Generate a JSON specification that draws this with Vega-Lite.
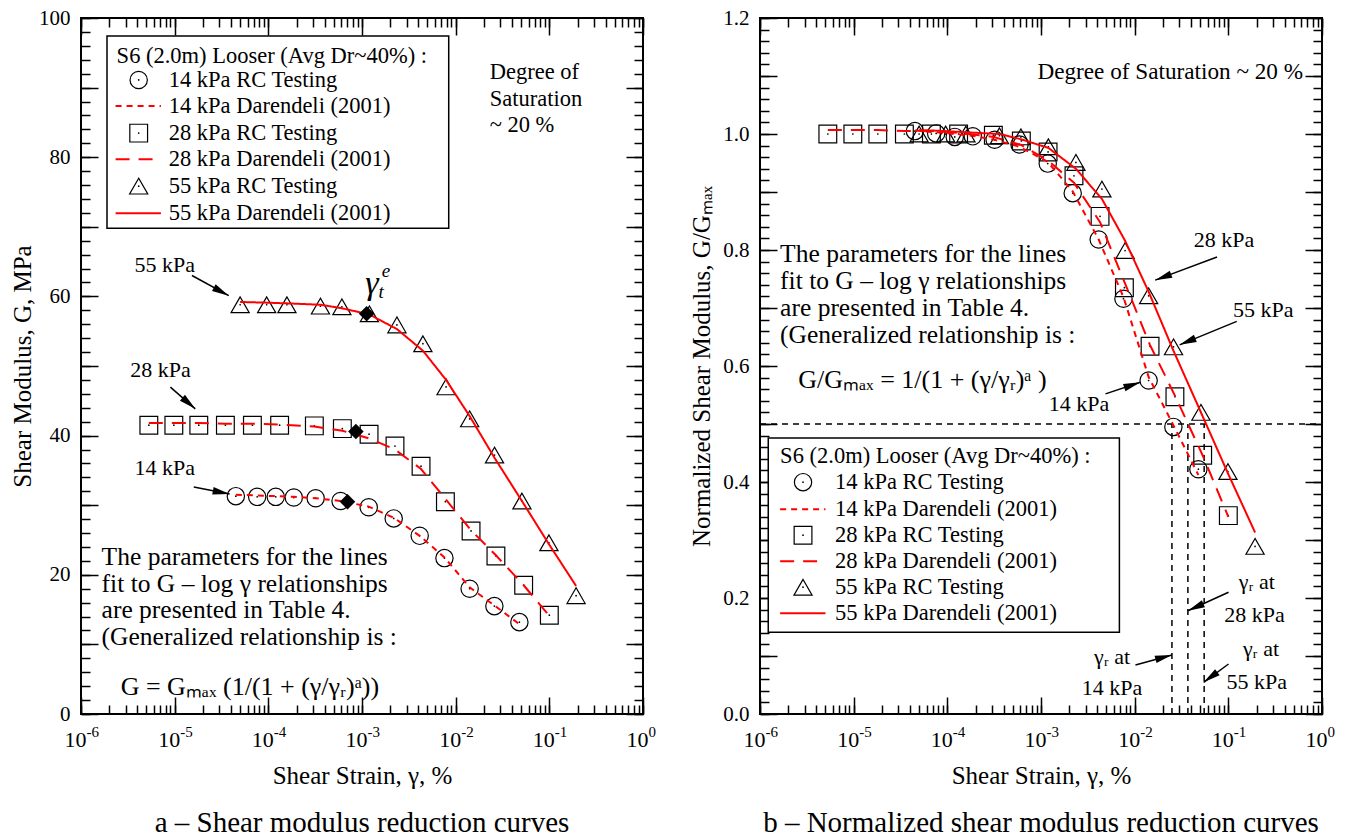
{
"$schema": "https://vega.github.io/schema/vega-lite/v6.json",
"background": "white",
"padding": {"left": 9, "top": 6, "right": 5, "bottom": 0},
"spacing": 117,
"bounds": "flush",
"datasets": {
"lp": [
{"p":"14","x":4.5e-5,"y":31.3},{"p":"14","x":7.6e-5,"y":31.2},{"p":"14","x":1.2e-4,"y":31.2},{"p":"14","x":1.87e-4,"y":31.1},{"p":"14","x":3.2e-4,"y":31.0},{"p":"14","x":5.9e-4,"y":30.6},{"p":"14","x":1.18e-3,"y":29.7},{"p":"14","x":2.18e-3,"y":28.1},{"p":"14","x":4.13e-3,"y":25.6},{"p":"14","x":7.59e-3,"y":22.4},{"p":"14","x":1.41e-2,"y":18.0},{"p":"14","x":2.59e-2,"y":15.5},{"p":"14","x":4.79e-2,"y":13.2},
{"p":"28","x":5.3e-6,"y":41.5},{"p":"28","x":9.8e-6,"y":41.5},{"p":"28","x":1.81e-5,"y":41.5},{"p":"28","x":3.48e-5,"y":41.5},{"p":"28","x":6.76e-5,"y":41.5},{"p":"28","x":1.32e-4,"y":41.5},{"p":"28","x":3.1e-4,"y":41.4},{"p":"28","x":6.17e-4,"y":41.0},{"p":"28","x":1.19e-3,"y":40.2},{"p":"28","x":2.25e-3,"y":38.5},{"p":"28","x":4.27e-3,"y":35.6},{"p":"28","x":7.77e-3,"y":30.5},{"p":"28","x":1.46e-2,"y":26.3},{"p":"28","x":2.69e-2,"y":22.7},{"p":"28","x":5.32e-2,"y":18.5},{"p":"28","x":0.1,"y":14.2},
{"p":"55","x":5.0e-5,"y":58.8},{"p":"55","x":9.6e-5,"y":58.8},{"p":"55","x":1.58e-4,"y":58.8},{"p":"55","x":3.6e-4,"y":58.6},{"p":"55","x":6.1e-4,"y":58.5},{"p":"55","x":1.2e-3,"y":57.5},{"p":"55","x":2.36e-3,"y":55.9},{"p":"55","x":4.47e-3,"y":53.2},{"p":"55","x":7.9e-3,"y":47.0},{"p":"55","x":1.41e-2,"y":42.4},{"p":"55","x":2.6e-2,"y":37.2},{"p":"55","x":5.1e-2,"y":30.6},{"p":"55","x":9.9e-2,"y":24.6},{"p":"55","x":0.193,"y":17.0}
],
"ll": [
{"p":"14","x":4.5e-5,"y":31.5},{"p":"14","x":7.6e-5,"y":31.4},{"p":"14","x":1.2e-4,"y":31.3},{"p":"14","x":1.87e-4,"y":31.2},{"p":"14","x":3.2e-4,"y":31.0},{"p":"14","x":5.9e-4,"y":30.6},{"p":"14","x":1.18e-3,"y":29.8},{"p":"14","x":2.18e-3,"y":28.2},{"p":"14","x":4.13e-3,"y":25.6},{"p":"14","x":7.59e-3,"y":22.5},{"p":"14","x":1.41e-2,"y":18.2},{"p":"14","x":2.59e-2,"y":15.6},{"p":"14","x":4.79e-2,"y":12.9},
{"p":"28","x":5.3e-6,"y":41.8},{"p":"28","x":9.8e-6,"y":41.8},{"p":"28","x":1.81e-5,"y":41.8},{"p":"28","x":3.48e-5,"y":41.7},{"p":"28","x":6.76e-5,"y":41.7},{"p":"28","x":1.32e-4,"y":41.6},{"p":"28","x":3.1e-4,"y":41.3},{"p":"28","x":6.17e-4,"y":40.7},{"p":"28","x":1.19e-3,"y":39.6},{"p":"28","x":2.25e-3,"y":38.0},{"p":"28","x":4.27e-3,"y":35.2},{"p":"28","x":7.77e-3,"y":30.9},{"p":"28","x":1.46e-2,"y":26.4},{"p":"28","x":2.69e-2,"y":22.8},{"p":"28","x":5.32e-2,"y":18.5},{"p":"28","x":0.1,"y":14.1},
{"p":"55","x":5.0e-5,"y":59.2},{"p":"55","x":9.6e-5,"y":59.1},{"p":"55","x":1.58e-4,"y":59.0},{"p":"55","x":3.6e-4,"y":58.8},{"p":"55","x":6.1e-4,"y":58.3},{"p":"55","x":1.2e-3,"y":57.4},{"p":"55","x":2.36e-3,"y":55.3},{"p":"55","x":4.47e-3,"y":52.2},{"p":"55","x":7.9e-3,"y":48.0},{"p":"55","x":1.41e-2,"y":42.8},{"p":"55","x":2.6e-2,"y":36.8},{"p":"55","x":5.1e-2,"y":30.6},{"p":"55","x":9.9e-2,"y":24.4},{"p":"55","x":0.193,"y":18.4}
],
"ld": [{"p":"55","x":1.12e-3,"y":57.5},{"p":"28","x":8.6e-4,"y":40.6},{"p":"14","x":7.0e-4,"y":30.5}],
"lsym": [{"p":"14","x":4.13e-6,"y":91.1},{"p":"28","x":4.13e-6,"y":83.46},{"p":"55","x":4.13e-6,"y":75.84}],
"lleg": [{"p":"14","x1":2.34e-6,"x2":7.13e-6,"y":87.35},{"p":"28","x1":2.34e-6,"x2":7.13e-6,"y":79.72},{"p":"55","x1":2.34e-6,"x2":7.13e-6,"y":71.95}],
"lbox": [{"x1":1.895e-6,"x2":8.43e-3,"y1":69.8,"y2":97.4}],
"lt": [
{"g":"legt","x":2.4e-6,"y":94.6,"t":"S6 (2.0m) Looser (Avg Dr~40%) :"},
{"g":"leg","x":8.63e-6,"y":91.1,"t":"14 kPa RC Testing"},
{"g":"leg","x":8.63e-6,"y":87.35,"t":"14 kPa Darendeli (2001)"},
{"g":"leg","x":8.63e-6,"y":83.46,"t":"28 kPa RC Testing"},
{"g":"leg","x":8.63e-6,"y":79.72,"t":"28 kPa Darendeli (2001)"},
{"g":"leg","x":8.63e-6,"y":75.84,"t":"55 kPa RC Testing"},
{"g":"leg","x":8.63e-6,"y":71.95,"t":"55 kPa Darendeli (2001)"},
{"g":"sat","x":0.02307,"y":92.2,"t":"Degree of"},
{"g":"sat","x":0.02307,"y":88.3,"t":"Saturation"},
{"g":"sat","x":0.02307,"y":84.6,"t":"~ 20 %"},
{"g":"lab","x":7.84e-6,"y":64.5,"t":"55 kPa"},
{"g":"lab","x":7.05e-6,"y":49.4,"t":"28 kPa"},
{"g":"lab","x":7.85e-6,"y":35.3,"t":"14 kPa"},
{"g":"para","x":1.66e-6,"y":22.6,"t":"The parameters for the lines"},
{"g":"para","x":1.66e-6,"y":18.7,"t":"fit to G – log γ relationships"},
{"g":"para","x":1.66e-6,"y":14.9,"t":"are presented in Table 4."},
{"g":"para","x":1.66e-6,"y":11.1,"t":"(Generalized relationship is :"},
{"g":"form","x":2.65e-6,"y":3.84,"t":"G = Gₘₐₓ (1/(1 + (γ/γᵣ)ᵃ))"},
{"g":"gam","x":1.28e-3,"y":61.8,"t":"γ"}
],
"la": [
{"x1":1.53e-5,"y1":63.0,"x2":3.78e-5,"y2":60.1,"angle":118.6},
{"x1":9.0e-6,"y1":46.96,"x2":1.66e-5,"y2":43.84,"angle":130.9},
{"x1":1.6e-5,"y1":32.6,"x2":3.86e-5,"y2":31.6,"angle":101}
],
"rp": [
{"p":"14","x":4.5e-5,"y":1.005},{"p":"14","x":7.6e-5,"y":1.001},{"p":"14","x":1.2e-4,"y":0.995},{"p":"14","x":1.87e-4,"y":0.996},{"p":"14","x":3.2e-4,"y":0.99},{"p":"14","x":5.9e-4,"y":0.982},{"p":"14","x":1.18e-3,"y":0.949},{"p":"14","x":2.18e-3,"y":0.898},{"p":"14","x":4.13e-3,"y":0.818},{"p":"14","x":7.59e-3,"y":0.716},{"p":"14","x":1.41e-2,"y":0.575},{"p":"14","x":2.59e-2,"y":0.495},{"p":"14","x":4.79e-2,"y":0.422},
{"p":"28","x":5.3e-6,"y":1.0},{"p":"28","x":9.8e-6,"y":1.0},{"p":"28","x":1.81e-5,"y":1.0},{"p":"28","x":3.48e-5,"y":1.0},{"p":"28","x":6.76e-5,"y":1.0},{"p":"28","x":1.32e-4,"y":1.0},{"p":"28","x":3.1e-4,"y":0.998},{"p":"28","x":6.17e-4,"y":0.988},{"p":"28","x":1.19e-3,"y":0.969},{"p":"28","x":2.25e-3,"y":0.928},{"p":"28","x":4.27e-3,"y":0.858},{"p":"28","x":7.77e-3,"y":0.735},{"p":"28","x":1.46e-2,"y":0.634},{"p":"28","x":2.69e-2,"y":0.547},{"p":"28","x":5.32e-2,"y":0.446},{"p":"28","x":0.1,"y":0.342},
{"p":"55","x":5.0e-5,"y":1.0},{"p":"55","x":9.6e-5,"y":1.0},{"p":"55","x":1.58e-4,"y":1.0},{"p":"55","x":3.6e-4,"y":0.997},{"p":"55","x":6.1e-4,"y":0.995},{"p":"55","x":1.2e-3,"y":0.978},{"p":"55","x":2.36e-3,"y":0.951},{"p":"55","x":4.47e-3,"y":0.905},{"p":"55","x":7.9e-3,"y":0.799},{"p":"55","x":1.41e-2,"y":0.721},{"p":"55","x":2.6e-2,"y":0.633},{"p":"55","x":5.1e-2,"y":0.52},{"p":"55","x":9.9e-2,"y":0.418},{"p":"55","x":0.193,"y":0.289}
],
"rl": [
{"p":"14","x":4.5e-5,"y":1.006},{"p":"14","x":7.6e-5,"y":1.003},{"p":"14","x":1.2e-4,"y":1.0},{"p":"14","x":1.87e-4,"y":0.997},{"p":"14","x":3.2e-4,"y":0.99},{"p":"14","x":5.9e-4,"y":0.978},{"p":"14","x":1.18e-3,"y":0.952},{"p":"14","x":2.18e-3,"y":0.901},{"p":"14","x":4.13e-3,"y":0.818},{"p":"14","x":7.59e-3,"y":0.719},{"p":"14","x":1.41e-2,"y":0.581},{"p":"14","x":2.59e-2,"y":0.498},{"p":"14","x":4.79e-2,"y":0.412},
{"p":"28","x":5.3e-6,"y":1.007},{"p":"28","x":9.8e-6,"y":1.007},{"p":"28","x":1.81e-5,"y":1.007},{"p":"28","x":3.48e-5,"y":1.005},{"p":"28","x":6.76e-5,"y":1.005},{"p":"28","x":1.32e-4,"y":1.002},{"p":"28","x":3.1e-4,"y":0.995},{"p":"28","x":6.17e-4,"y":0.981},{"p":"28","x":1.19e-3,"y":0.954},{"p":"28","x":2.25e-3,"y":0.916},{"p":"28","x":4.27e-3,"y":0.848},{"p":"28","x":7.77e-3,"y":0.745},{"p":"28","x":1.46e-2,"y":0.636},{"p":"28","x":2.69e-2,"y":0.549},{"p":"28","x":5.32e-2,"y":0.446},{"p":"28","x":0.1,"y":0.34},
{"p":"55","x":5.0e-5,"y":1.007},{"p":"55","x":9.6e-5,"y":1.005},{"p":"55","x":1.58e-4,"y":1.003},{"p":"55","x":3.6e-4,"y":1.0},{"p":"55","x":6.1e-4,"y":0.991},{"p":"55","x":1.2e-3,"y":0.976},{"p":"55","x":2.36e-3,"y":0.94},{"p":"55","x":4.47e-3,"y":0.888},{"p":"55","x":7.9e-3,"y":0.816},{"p":"55","x":1.41e-2,"y":0.728},{"p":"55","x":2.6e-2,"y":0.626},{"p":"55","x":5.1e-2,"y":0.52},{"p":"55","x":9.9e-2,"y":0.415},{"p":"55","x":0.193,"y":0.313}
],
"rsym": [{"p":"14","x":2.88e-6,"y":0.3997},{"p":"28","x":2.88e-6,"y":0.3083},{"p":"55","x":2.88e-6,"y":0.2186}],
"rleg": [{"p":"14","x1":1.64e-6,"x2":5.0e-6,"y":0.3531},{"p":"28","x1":1.64e-6,"x2":5.0e-6,"y":0.2634},{"p":"55","x1":1.64e-6,"x2":5.0e-6,"y":0.1737}],
"rbox": [{"x1":1.225e-6,"x2":6.87e-3,"y1":0.141,"y2":0.476}],
"rref": [{"x1":1e-6,"x2":1,"y1":0.5,"y2":0.5},{"x1":0.025,"x2":0.025,"y1":0,"y2":0.5},{"x1":0.037,"x2":0.037,"y1":0,"y2":0.5},{"x1":0.0552,"x2":0.0552,"y1":0,"y2":0.5}],
"rt": [
{"g":"legt","x":1.64e-6,"y":0.4455,"t":"S6 (2.0m) Looser (Avg Dr~40%) :"},
{"g":"leg","x":6.33e-6,"y":0.3997,"t":"14 kPa RC Testing"},
{"g":"leg","x":6.33e-6,"y":0.3531,"t":"14 kPa Darendeli (2001)"},
{"g":"leg","x":6.33e-6,"y":0.3083,"t":"28 kPa RC Testing"},
{"g":"leg","x":6.33e-6,"y":0.2634,"t":"28 kPa Darendeli (2001)"},
{"g":"leg","x":6.33e-6,"y":0.2186,"t":"55 kPa RC Testing"},
{"g":"leg","x":6.33e-6,"y":0.1737,"t":"55 kPa Darendeli (2001)"},
{"g":"sat","x":9.16e-4,"y":1.107,"t":"Degree of Saturation ~ 20 %"},
{"g":"para","x":1.64e-6,"y":0.793,"t":"The parameters for the lines"},
{"g":"para","x":1.64e-6,"y":0.746,"t":"fit to G – log γ relationships"},
{"g":"para","x":1.64e-6,"y":0.7,"t":"are presented in Table 4."},
{"g":"para","x":1.64e-6,"y":0.653,"t":"(Generalized relationship is :"},
{"g":"form","x":2.56e-6,"y":0.576,"t":"G/Gₘₐₓ = 1/(1 + (γ/γᵣ)ᵃ )"},
{"g":"lab","x":0.0897,"y":0.817,"t":"28 kPa"},
{"g":"lab","x":0.2366,"y":0.696,"t":"55 kPa"},
{"g":"lab","x":2.54e-3,"y":0.535,"t":"14 kPa"},
{"g":"lab","x":0.201,"y":0.227,"t":"γᵣ at"},
{"g":"lab","x":0.19,"y":0.171,"t":"28 kPa"},
{"g":"lab","x":0.223,"y":0.112,"t":"γᵣ at"},
{"g":"lab","x":0.201,"y":0.056,"t":"55 kPa"},
{"g":"lab","x":5.74e-3,"y":0.0978,"t":"γᵣ at"},
{"g":"lab","x":5.74e-3,"y":0.0443,"t":"14 kPa"}
],
"ra": [
{"x1":0.0757,"y1":0.788,"x2":0.01656,"y2":0.748,"angle":-110.3},
{"x1":0.123,"y1":0.677,"x2":0.0302,"y2":0.6365,"angle":-112.2},
{"x1":4.88e-3,"y1":0.552,"x2":0.0115,"y2":0.572,"angle":71.5},
{"x1":0.1005,"y1":0.21,"x2":0.037,"y2":0.178,"angle":-114.2},
{"x1":0.1005,"y1":0.0862,"x2":0.0545,"y2":0.0547,"angle":-126.2},
{"x1":0.0102,"y1":0.0845,"x2":0.025,"y2":0.1018,"angle":74.8}
]
},
"hconcat": [
{
"width": 562, "height": 696,
"title": {"text": "a – Shear modulus reduction curves", "orient": "bottom", "offset": 21},
"resolve": {"axis": {"x": "independent", "y": "independent"}},
"layer": [
{"data": {"name": "lbox"}, "mark": {"type": "rect", "fill": null, "stroke": "black", "strokeWidth": 1.5},
 "encoding": {"x": {"field": "x1", "type": "quantitative", "scale": {"type": "log", "domain": [1e-6, 1], "nice": false}, "axis": null}, "x2": {"field": "x2"},
  "y": {"field": "y1", "type": "quantitative", "scale": {"domain": [0, 100], "nice": false}, "axis": null}, "y2": {"field": "y2"}}},
{"data": {"name": "lp"}, "mark": {"type": "point", "filled": false, "stroke": "black", "strokeWidth": 1.2, "opacity": 1},
 "encoding": {
  "x": {"field": "x", "type": "quantitative", "axis": {"orient": "bottom", "values": [1e-6,1e-5,1e-4,1e-3,1e-2,1e-1,1], "ticks": false, "labelExpr": "'10'", "labelAlign": "right", "labelOffset": 5, "labelPadding": 15, "labelFontSize": 22, "title": "Shear Strain, γ, %", "titlePadding": 13, "titleFontSize": 25}},
  "y": {"field": "y", "type": "quantitative", "axis": {"orient": "left", "values": [0,20,40,60,80,100], "ticks": false, "labelPadding": 11, "labelFontSize": 21, "title": "Shear Modulus, G, MPa", "titlePadding": 3, "titleFontSize": 25}},
  "shape": {"field": "p", "type": "nominal", "scale": {"domain": ["14","28","55"], "range": ["circle","square","triangle-up"]}, "legend": null},
  "size": {"field": "p", "type": "nominal", "scale": {"domain": ["14","28","55"], "range": [300,330,420]}, "legend": null}}},
{"data": {"name": "lp"}, "mark": {"type": "circle", "size": 3, "color": "black", "opacity": 1},
 "encoding": {
  "x": {"field": "x", "type": "quantitative", "axis": {"orient": "bottom", "values": [1e-6,1e-5,1e-4,1e-3,1e-2,1e-1,1], "ticks": false, "labelExpr": "['-6','-5','-4','-3','-2','-1','0'][round(log(datum.value)/LN10)+6]", "labelAlign": "left", "labelOffset": 5, "labelPadding": 10, "labelFontSize": 15, "title": null}},
  "y": {"field": "y", "type": "quantitative", "axis": {"orient": "left", "values": [0,10,20,30,40,50,60,70,80,90,100], "labels": false, "tickSize": -17, "tickWidth": 1.5, "title": null}}}},
{"data": {"name": "ll"}, "mark": {"type": "line", "color": "#ff0000", "strokeWidth": 2},
 "encoding": {
  "x": {"field": "x", "type": "quantitative", "axis": {"orient": "bottom", "values": [1e-6,1e-5,1e-4,1e-3,1e-2,1e-1,1], "labels": false, "tickSize": -17, "tickWidth": 1.5, "title": null}},
  "y": {"field": "y", "type": "quantitative", "axis": {"orient": "left", "values": [0,2,4,6,8,10,12,14,16,18,20,22,24,26,28,30,32,34,36,38,40,42,44,46,48,50,52,54,56,58,60,62,64,66,68,70,72,74,76,78,80,82,84,86,88,90,92,94,96,98,100], "labels": false, "tickSize": -9, "tickWidth": 1.5, "title": null}},
  "strokeDash": {"field": "p", "type": "nominal", "scale": {"domain": ["14","28","55"], "range": [[6,5],[14,9],[1,0]]}, "legend": null}}},
{"data": {"name": "ld"}, "mark": {"type": "point", "shape": "diamond", "filled": true, "color": "black", "size": 240, "opacity": 1},
 "encoding": {
  "x": {"field": "x", "type": "quantitative", "axis": {"orient": "bottom", "values": [1e-6,2e-6,3e-6,4e-6,5e-6,6e-6,7e-6,8e-6,9e-6,1e-5,2e-5,3e-5,4e-5,5e-5,6e-5,7e-5,8e-5,9e-5,1e-4,2e-4,3e-4,4e-4,5e-4,6e-4,7e-4,8e-4,9e-4,1e-3,2e-3,3e-3,4e-3,5e-3,6e-3,7e-3,8e-3,9e-3,0.01,0.02,0.03,0.04,0.05,0.06,0.07,0.08,0.09,0.1,0.2,0.3,0.4,0.5,0.6,0.7,0.8,0.9,1], "labels": false, "tickSize": -9, "tickWidth": 1.5, "title": null}},
  "y": {"field": "y", "type": "quantitative", "axis": {"orient": "right", "values": [0,10,20,30,40,50,60,70,80,90,100], "labels": false, "tickSize": -17, "tickWidth": 1.5, "title": null}}}},
{"data": {"name": "lsym"}, "mark": {"type": "point", "filled": false, "stroke": "black", "strokeWidth": 1.2, "opacity": 1},
 "encoding": {
  "x": {"field": "x", "type": "quantitative", "axis": {"orient": "top", "values": [1e-6,1e-5,1e-4,1e-3,1e-2,1e-1,1], "labels": false, "tickSize": -17, "tickWidth": 1.5, "title": null}},
  "y": {"field": "y", "type": "quantitative", "axis": {"orient": "right", "values": [0,2,4,6,8,10,12,14,16,18,20,22,24,26,28,30,32,34,36,38,40,42,44,46,48,50,52,54,56,58,60,62,64,66,68,70,72,74,76,78,80,82,84,86,88,90,92,94,96,98,100], "labels": false, "tickSize": -9, "tickWidth": 1.5, "title": null}},
  "shape": {"field": "p", "type": "nominal", "legend": null},
  "size": {"field": "p", "type": "nominal", "legend": null}}},
{"data": {"name": "lsym"}, "mark": {"type": "circle", "size": 3, "color": "black", "opacity": 1},
 "encoding": {
  "x": {"field": "x", "type": "quantitative", "axis": {"orient": "top", "values": [1e-6,2e-6,3e-6,4e-6,5e-6,6e-6,7e-6,8e-6,9e-6,1e-5,2e-5,3e-5,4e-5,5e-5,6e-5,7e-5,8e-5,9e-5,1e-4,2e-4,3e-4,4e-4,5e-4,6e-4,7e-4,8e-4,9e-4,1e-3,2e-3,3e-3,4e-3,5e-3,6e-3,7e-3,8e-3,9e-3,0.01,0.02,0.03,0.04,0.05,0.06,0.07,0.08,0.09,0.1,0.2,0.3,0.4,0.5,0.6,0.7,0.8,0.9,1], "labels": false, "tickSize": -9, "tickWidth": 1.5, "title": null}},
  "y": {"field": "y", "type": "quantitative", "axis": null}}},
{"data": {"name": "lleg"}, "mark": {"type": "rule", "color": "#ff0000", "strokeWidth": 2},
 "encoding": {"x": {"field": "x1", "type": "quantitative", "axis": null}, "x2": {"field": "x2"}, "y": {"field": "y", "type": "quantitative", "axis": null},
  "strokeDash": {"field": "p", "type": "nominal", "legend": null}}},
{"data": {"name": "lt"}, "transform": [{"filter": "datum.g == 'legt' || datum.g == 'leg' || datum.g == 'sat'"}], "mark": {"type": "text", "align": "left", "baseline": "middle", "fontSize": 22.5, "font": "Liberation Serif"},
 "encoding": {"x": {"field": "x", "type": "quantitative", "axis": null}, "y": {"field": "y", "type": "quantitative", "axis": null}, "text": {"field": "t"}}},
{"data": {"name": "lt"}, "transform": [{"filter": "datum.g == 'para'"}], "mark": {"type": "text", "align": "left", "baseline": "middle", "fontSize": 25.5, "font": "Liberation Serif"},
 "encoding": {"x": {"field": "x", "type": "quantitative", "axis": null}, "y": {"field": "y", "type": "quantitative", "axis": null}, "text": {"field": "t"}}},
{"data": {"name": "lt"}, "transform": [{"filter": "datum.g == 'form'"}], "mark": {"type": "text", "align": "left", "baseline": "middle", "fontSize": 26, "font": "Liberation Serif"},
 "encoding": {"x": {"field": "x", "type": "quantitative", "axis": null}, "y": {"field": "y", "type": "quantitative", "axis": null}, "text": {"field": "t"}}},
{"data": {"name": "lt"}, "transform": [{"filter": "datum.g == 'lab'"}], "mark": {"type": "text", "align": "center", "baseline": "middle", "fontSize": 22, "font": "Liberation Serif"},
 "encoding": {"x": {"field": "x", "type": "quantitative", "axis": null}, "y": {"field": "y", "type": "quantitative", "axis": null}, "text": {"field": "t"}}},
{"data": {"name": "lt"}, "transform": [{"filter": "datum.g == 'gam'"}], "mark": {"type": "text", "align": "center", "baseline": "middle", "fontSize": 34, "fontStyle": "italic", "font": "Liberation Serif"},
 "encoding": {"x": {"field": "x", "type": "quantitative", "axis": null}, "y": {"field": "y", "type": "quantitative", "axis": null}, "text": {"field": "t"}}},
{"data": {"name": "lt"}, "transform": [{"filter": "datum.g == 'gam'"}], "mark": {"type": "text", "align": "center", "baseline": "middle", "fontSize": 19, "fontStyle": "italic", "font": "Liberation Serif", "dx": 14, "dy": -13, "text": "e"},
 "encoding": {"x": {"field": "x", "type": "quantitative", "axis": null}, "y": {"field": "y", "type": "quantitative", "axis": null}}},
{"data": {"name": "lt"}, "transform": [{"filter": "datum.g == 'gam'"}], "mark": {"type": "text", "align": "center", "baseline": "middle", "fontSize": 19, "fontStyle": "italic", "font": "Liberation Serif", "dx": 9, "dy": 8, "text": "t"},
 "encoding": {"x": {"field": "x", "type": "quantitative", "axis": null}, "y": {"field": "y", "type": "quantitative", "axis": null}}},
{"data": {"name": "la"}, "mark": {"type": "rule", "color": "black", "strokeWidth": 1.5},
 "encoding": {"x": {"field": "x1", "type": "quantitative", "axis": null}, "x2": {"field": "x2"}, "y": {"field": "y1", "type": "quantitative", "axis": null}, "y2": {"field": "y2"}}},
{"data": {"name": "la"}, "mark": {"type": "point", "shape": "M0,0L0.45,2L-0.45,2Z", "filled": true, "color": "black", "size": 289, "opacity": 1},
 "encoding": {"x": {"field": "x2", "type": "quantitative", "axis": null}, "y": {"field": "y2", "type": "quantitative", "axis": null}, "angle": {"field": "angle", "type": "quantitative", "scale": null}}}
]
},
{
"width": 562, "height": 696,
"title": {"text": "b – Normalized shear modulus reduction curves", "orient": "bottom", "offset": 21},
"resolve": {"axis": {"x": "independent", "y": "independent"}},
"layer": [
{"data": {"name": "rbox"}, "mark": {"type": "rect", "fill": "white", "stroke": "black", "strokeWidth": 1.5},
 "encoding": {"x": {"field": "x1", "type": "quantitative", "scale": {"type": "log", "domain": [1e-6, 1], "nice": false}, "axis": null}, "x2": {"field": "x2"},
  "y": {"field": "y1", "type": "quantitative", "scale": {"domain": [0, 1.2], "nice": false}, "axis": null}, "y2": {"field": "y2"}}},
{"data": {"name": "rref"}, "mark": {"type": "rule", "color": "black", "strokeWidth": 1.5, "strokeDash": [6, 5]},
 "encoding": {"x": {"field": "x1", "type": "quantitative", "axis": null}, "x2": {"field": "x2"}, "y": {"field": "y1", "type": "quantitative", "axis": null}, "y2": {"field": "y2"}}},
{"data": {"name": "rp"}, "mark": {"type": "point", "filled": false, "stroke": "black", "strokeWidth": 1.2, "opacity": 1},
 "encoding": {
  "x": {"field": "x", "type": "quantitative", "axis": {"orient": "bottom", "values": [1e-6,1e-5,1e-4,1e-3,1e-2,1e-1,1], "ticks": false, "labelExpr": "'10'", "labelAlign": "right", "labelOffset": 5, "labelPadding": 15, "labelFontSize": 22, "title": "Shear Strain, γ, %", "titlePadding": 13, "titleFontSize": 25}},
  "y": {"field": "y", "type": "quantitative", "axis": {"orient": "left", "values": [0,0.2,0.4,0.6,0.8,1,1.2], "format": ".1f", "ticks": false, "labelPadding": 11, "labelFontSize": 21, "title": "Normalized Shear Modulus, G/Gₘₐₓ", "titlePadding": 8, "titleFontSize": 25}},
  "shape": {"field": "p", "type": "nominal", "scale": {"domain": ["14","28","55"], "range": ["circle","square","triangle-up"]}, "legend": null},
  "size": {"field": "p", "type": "nominal", "scale": {"domain": ["14","28","55"], "range": [300,330,420]}, "legend": null}}},
{"data": {"name": "rp"}, "mark": {"type": "circle", "size": 3, "color": "black", "opacity": 1},
 "encoding": {
  "x": {"field": "x", "type": "quantitative", "axis": {"orient": "bottom", "values": [1e-6,1e-5,1e-4,1e-3,1e-2,1e-1,1], "ticks": false, "labelExpr": "['-6','-5','-4','-3','-2','-1','0'][round(log(datum.value)/LN10)+6]", "labelAlign": "left", "labelOffset": 5, "labelPadding": 10, "labelFontSize": 15, "title": null}},
  "y": {"field": "y", "type": "quantitative", "axis": {"orient": "left", "values": [0,0.1,0.2,0.3,0.4,0.5,0.6,0.7,0.8,0.9,1,1.1,1.2], "labels": false, "tickSize": -17, "tickWidth": 1.5, "title": null}}}},
{"data": {"name": "rl"}, "mark": {"type": "line", "color": "#ff0000", "strokeWidth": 2},
 "encoding": {
  "x": {"field": "x", "type": "quantitative", "axis": {"orient": "bottom", "values": [1e-6,1e-5,1e-4,1e-3,1e-2,1e-1,1], "labels": false, "tickSize": -17, "tickWidth": 1.5, "title": null}},
  "y": {"field": "y", "type": "quantitative", "axis": {"orient": "left", "values": [0,0.02,0.04,0.06,0.08,0.1,0.12,0.14,0.16,0.18,0.2,0.22,0.24,0.26,0.28,0.3,0.32,0.34,0.36,0.38,0.4,0.42,0.44,0.46,0.48,0.5,0.52,0.54,0.56,0.58,0.6,0.62,0.64,0.66,0.68,0.7,0.72,0.74,0.76,0.78,0.8,0.82,0.84,0.86,0.88,0.9,0.92,0.94,0.96,0.98,1,1.02,1.04,1.06,1.08,1.1,1.12,1.14,1.16,1.18,1.2], "labels": false, "tickSize": -9, "tickWidth": 1.5, "title": null}},
  "strokeDash": {"field": "p", "type": "nominal", "scale": {"domain": ["14","28","55"], "range": [[6,5],[14,9],[1,0]]}, "legend": null}}},
{"data": {"name": "rsym"}, "mark": {"type": "point", "filled": false, "stroke": "black", "strokeWidth": 1.2, "opacity": 1},
 "encoding": {
  "x": {"field": "x", "type": "quantitative", "axis": {"orient": "bottom", "values": [1e-6,2e-6,3e-6,4e-6,5e-6,6e-6,7e-6,8e-6,9e-6,1e-5,2e-5,3e-5,4e-5,5e-5,6e-5,7e-5,8e-5,9e-5,1e-4,2e-4,3e-4,4e-4,5e-4,6e-4,7e-4,8e-4,9e-4,1e-3,2e-3,3e-3,4e-3,5e-3,6e-3,7e-3,8e-3,9e-3,0.01,0.02,0.03,0.04,0.05,0.06,0.07,0.08,0.09,0.1,0.2,0.3,0.4,0.5,0.6,0.7,0.8,0.9,1], "labels": false, "tickSize": -9, "tickWidth": 1.5, "title": null}},
  "y": {"field": "y", "type": "quantitative", "axis": {"orient": "right", "values": [0,0.1,0.2,0.3,0.4,0.5,0.6,0.7,0.8,0.9,1,1.1,1.2], "labels": false, "tickSize": -17, "tickWidth": 1.5, "title": null}},
  "shape": {"field": "p", "type": "nominal", "legend": null},
  "size": {"field": "p", "type": "nominal", "legend": null}}},
{"data": {"name": "rsym"}, "mark": {"type": "circle", "size": 3, "color": "black", "opacity": 1},
 "encoding": {
  "x": {"field": "x", "type": "quantitative", "axis": {"orient": "top", "values": [1e-6,1e-5,1e-4,1e-3,1e-2,1e-1,1], "labels": false, "tickSize": -17, "tickWidth": 1.5, "title": null}},
  "y": {"field": "y", "type": "quantitative", "axis": {"orient": "right", "values": [0,0.02,0.04,0.06,0.08,0.1,0.12,0.14,0.16,0.18,0.2,0.22,0.24,0.26,0.28,0.3,0.32,0.34,0.36,0.38,0.4,0.42,0.44,0.46,0.48,0.5,0.52,0.54,0.56,0.58,0.6,0.62,0.64,0.66,0.68,0.7,0.72,0.74,0.76,0.78,0.8,0.82,0.84,0.86,0.88,0.9,0.92,0.94,0.96,0.98,1,1.02,1.04,1.06,1.08,1.1,1.12,1.14,1.16,1.18,1.2], "labels": false, "tickSize": -9, "tickWidth": 1.5, "title": null}}}},
{"data": {"name": "rleg"}, "mark": {"type": "rule", "color": "#ff0000", "strokeWidth": 2},
 "encoding": {"x": {"field": "x1", "type": "quantitative", "axis": {"orient": "top", "values": [1e-6,2e-6,3e-6,4e-6,5e-6,6e-6,7e-6,8e-6,9e-6,1e-5,2e-5,3e-5,4e-5,5e-5,6e-5,7e-5,8e-5,9e-5,1e-4,2e-4,3e-4,4e-4,5e-4,6e-4,7e-4,8e-4,9e-4,1e-3,2e-3,3e-3,4e-3,5e-3,6e-3,7e-3,8e-3,9e-3,0.01,0.02,0.03,0.04,0.05,0.06,0.07,0.08,0.09,0.1,0.2,0.3,0.4,0.5,0.6,0.7,0.8,0.9,1], "labels": false, "tickSize": -9, "tickWidth": 1.5, "title": null}}, "x2": {"field": "x2"}, "y": {"field": "y", "type": "quantitative", "axis": null},
  "strokeDash": {"field": "p", "type": "nominal", "legend": null}}},
{"data": {"name": "rt"}, "transform": [{"filter": "datum.g == 'legt' || datum.g == 'leg'"}], "mark": {"type": "text", "align": "left", "baseline": "middle", "fontSize": 22.5, "font": "Liberation Serif"},
 "encoding": {"x": {"field": "x", "type": "quantitative", "axis": null}, "y": {"field": "y", "type": "quantitative", "axis": null}, "text": {"field": "t"}}},
{"data": {"name": "rt"}, "transform": [{"filter": "datum.g == 'sat'"}], "mark": {"type": "text", "align": "left", "baseline": "middle", "fontSize": 23.2, "font": "Liberation Serif"},
 "encoding": {"x": {"field": "x", "type": "quantitative", "axis": null}, "y": {"field": "y", "type": "quantitative", "axis": null}, "text": {"field": "t"}}},
{"data": {"name": "rt"}, "transform": [{"filter": "datum.g == 'para'"}], "mark": {"type": "text", "align": "left", "baseline": "middle", "fontSize": 25.5, "font": "Liberation Serif"},
 "encoding": {"x": {"field": "x", "type": "quantitative", "axis": null}, "y": {"field": "y", "type": "quantitative", "axis": null}, "text": {"field": "t"}}},
{"data": {"name": "rt"}, "transform": [{"filter": "datum.g == 'form'"}], "mark": {"type": "text", "align": "left", "baseline": "middle", "fontSize": 26, "font": "Liberation Serif"},
 "encoding": {"x": {"field": "x", "type": "quantitative", "axis": null}, "y": {"field": "y", "type": "quantitative", "axis": null}, "text": {"field": "t"}}},
{"data": {"name": "rt"}, "transform": [{"filter": "datum.g == 'lab'"}], "mark": {"type": "text", "align": "center", "baseline": "middle", "fontSize": 22, "font": "Liberation Serif"},
 "encoding": {"x": {"field": "x", "type": "quantitative", "axis": null}, "y": {"field": "y", "type": "quantitative", "axis": null}, "text": {"field": "t"}}},
{"data": {"name": "ra"}, "mark": {"type": "rule", "color": "black", "strokeWidth": 1.5},
 "encoding": {"x": {"field": "x1", "type": "quantitative", "axis": null}, "x2": {"field": "x2"}, "y": {"field": "y1", "type": "quantitative", "axis": null}, "y2": {"field": "y2"}}},
{"data": {"name": "ra"}, "mark": {"type": "point", "shape": "M0,0L0.45,2L-0.45,2Z", "filled": true, "color": "black", "size": 289, "opacity": 1},
 "encoding": {"x": {"field": "x2", "type": "quantitative", "axis": null}, "y": {"field": "y2", "type": "quantitative", "axis": null}, "angle": {"field": "angle", "type": "quantitative", "scale": null}}}
]
}
],
"config": {
 "view": {"stroke": "black", "strokeWidth": 2},
 "axis": {"domain": false, "grid": false, "labelFont": "Liberation Serif", "titleFont": "Liberation Serif", "labelFontSize": 21, "titleFontSize": 25, "titleFontWeight": "normal", "labelColor": "black", "titleColor": "black", "tickColor": "black", "labelFlush": false, "labelOverlap": false, "labelBound": false},
 "title": {"font": "Liberation Serif", "fontWeight": "normal", "fontSize": 29, "color": "black"},
 "text": {"font": "Liberation Serif", "color": "black"}
}
}
